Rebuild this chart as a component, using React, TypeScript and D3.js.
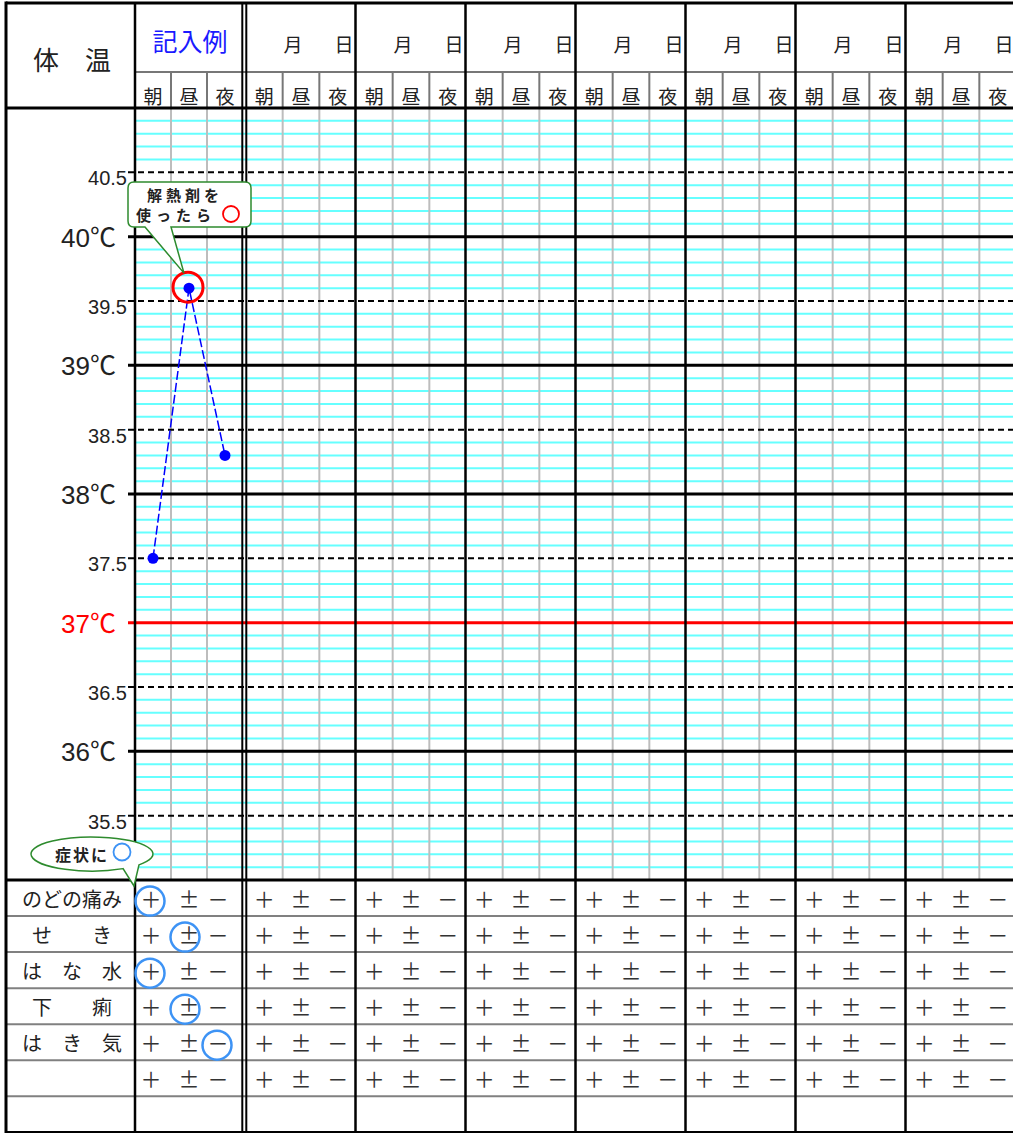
import React from 'react';
import * as d3 from 'd3';

const dayHeaders = ['記入例', '', '', '', '', '', '', ''];
const timeSlots = ['朝', '昼', '夜'];
const sampleTemps = [37.5, 39.6, 38.3];
const antipyreticSlot = 1;
const majorTicks = [36, 37, 38, 39, 40];
const halfTicks = [35.5, 36.5, 37.5, 38.5, 39.5, 40.5];
const feverTemp = 37;
const symptomLabels = ['のどの痛み', 'せ　　き', 'は　な　水', '下　　痢', 'は　き　気', '', ''];
const symptomRows = 6;
const symptomChoices = ['＋', '±', '－'];
const sampleMarks = [0, 1, 0, 1, 2];
const callout1Lines = ['解熱剤を', '使ったら'];
const callout2Text = '症状に';

const W = 1013;
const H = 1133;
const FONT = '"Noto Sans CJK JP", sans-serif';
const NUMFONT = '"Liberation Sans", "Noto Sans CJK JP", sans-serif';

const LEFT = 6;
const COL1 = 135;
const TOP = 3;
const HEADER_MID = 72;
const PLOT_TOP = 108;
const PLOT_BOTTOM = 880;
const BOTTOM = 1132;
const ROW_H = 36;

const y = d3.scaleLinear().domain([35, 41]).range([PLOT_BOTTOM, PLOT_TOP]);
const dayLeft = (i: number) => (i === 0 ? COL1 : 246 + (i - 1) * 110);
const dayRight = (i: number) => (i === 0 ? 243 : 246 + i * 110);
const slotScale = (i: number) =>
  d3.scaleBand<string>().domain(timeSlots).range([dayLeft(i), dayRight(i)]);

export default function App() {
  const nDays = dayHeaders.length;
  const sample = slotScale(0);
  const cx = (s: string) => (sample(s) as number) + sample.bandwidth() / 2;
  const pts = sampleTemps.map((t, i) => [cx(timeSlots[i]), y(t)] as [number, number]);
  const line = d3.line()(pts) as string;
  const minor: number[] = [];
  for (let k = 351; k < 410; k++) if (k % 5 !== 0) minor.push(k / 10);
  const rowY = (r: number) => PLOT_BOTTOM + r * ROW_H + (r > 0 ? r * 0.05 : 0);
  const choiceX = (day: number, c: number) => {
    const sc = slotScale(day);
    const center = (sc(timeSlots[c]) as number) + sc.bandwidth() / 2;
    if (day === 0) return [151, 189, 218][c];
    return center;
  };
  const markOffset = [-1, -4, -1];
  const anti = pts[antipyreticSlot];

  const els: React.ReactNode[] = [];

  minor.forEach((t) =>
    els.push(<line key={'m' + t} x1={COL1} x2={W} y1={y(t)} y2={y(t)} stroke="#66ffff" strokeWidth={2} />)
  );
  for (let d = 0; d < nDays; d++) {
    const sc = slotScale(d);
    timeSlots.slice(1).forEach((s) => {
      const xx = sc(s) as number;
      els.push(<line key={`v${d}${s}`} x1={xx} x2={xx} y1={PLOT_TOP} y2={PLOT_BOTTOM} stroke="#bdbdbd" strokeWidth={2} />);
      els.push(<line key={`h${d}${s}`} x1={xx} x2={xx} y1={HEADER_MID} y2={PLOT_TOP} stroke="#777" strokeWidth={2} />);
    });
  }
  halfTicks.forEach((t) => {
    els.push(<line key={'hd' + t} x1={128} x2={W} y1={y(t)} y2={y(t)} stroke="#000" strokeWidth={2} strokeDasharray="6,4" />);
    els.push(
      <text key={'ht' + t} x={127} y={y(t) + 13} textAnchor="end" fontFamily={NUMFONT} fontSize={20} fill="#222">
        {t.toFixed(1)}
      </text>
    );
  });
  majorTicks.forEach((t) => {
    const col = t === feverTemp ? '#ff0000' : '#000';
    els.push(<line key={'mj' + t} x1={128} x2={W} y1={y(t)} y2={y(t)} stroke={col} strokeWidth={3} />);
    els.push(
      <text key={'mt' + t} x={116} y={y(t) + 1} dominantBaseline="central" textAnchor="end" fontFamily={NUMFONT} fontSize={26} fill={t === feverTemp ? '#ff0000' : '#222'}>
        {t}℃
      </text>
    );
  });

  els.push(<line key="hmid" x1={COL1} x2={W} y1={HEADER_MID} y2={HEADER_MID} stroke="#777" strokeWidth={2} />);
  for (let r = 1; r < symptomLabels.length; r++) {
    els.push(<line key={'tr' + r} x1={LEFT} x2={W} y1={rowY(r)} y2={rowY(r)} stroke="#808080" strokeWidth={2} />);
  }
  [TOP, PLOT_TOP, PLOT_BOTTOM].forEach((yy, i) =>
    els.push(<line key={'hb' + i} x1={LEFT} x2={W} y1={yy} y2={yy} stroke="#000" strokeWidth={3} />)
  );
  els.push(<line key="hbb" x1={LEFT} x2={W} y1={BOTTOM} y2={BOTTOM} stroke="#000" strokeWidth={2} />);
  els.push(<line key="vl" x1={LEFT} x2={LEFT} y1={TOP - 1.5} y2={BOTTOM + 1} stroke="#000" strokeWidth={3} />);
  els.push(<line key="vc" x1={COL1} x2={COL1} y1={TOP} y2={BOTTOM} stroke="#000" strokeWidth={2.5} />);
  els.push(<line key="vd1" x1={242.3} x2={242.3} y1={TOP} y2={BOTTOM} stroke="#000" strokeWidth={2} />);
  els.push(<line key="vd2" x1={246.3} x2={246.3} y1={TOP} y2={BOTTOM} stroke="#000" strokeWidth={2} />);
  for (let d = 2; d < nDays; d++) {
    const xx = dayLeft(d) - 0.5;
    els.push(<line key={'vdd' + d} x1={xx} x2={xx} y1={TOP} y2={BOTTOM} stroke="#000" strokeWidth={2.5} />);
  }

  els.push(
    <text key="title" x={72} y={58} dominantBaseline="central" textAnchor="middle" fontFamily={FONT} fontSize={26} fill="#222">
      体　温
    </text>
  );
  for (let d = 0; d < nDays; d++) {
    const sc = slotScale(d);
    if (d === 0) {
      els.push(
        <text key="sample" x={190} y={40} dominantBaseline="central" textAnchor="middle" fontFamily={FONT} fontSize={25} fill="#1a1aff">
          {dayHeaders[0]}
        </text>
      );
    } else {
      els.push(
        <text key={'mo' + d} x={dayLeft(d) + 47} y={43} dominantBaseline="central" textAnchor="middle" fontFamily={FONT} fontSize={19} fill="#222">月</text>
      );
      els.push(
        <text key={'da' + d} x={dayLeft(d) + 98} y={43} dominantBaseline="central" textAnchor="middle" fontFamily={FONT} fontSize={19} fill="#222">日</text>
      );
    }
    timeSlots.forEach((s) =>
      els.push(
        <text key={`ts${d}${s}`} x={(sc(s) as number) + sc.bandwidth() / 2} y={95} dominantBaseline="central" textAnchor="middle" fontFamily={FONT} fontSize={19} fill="#222">
          {s}
        </text>
      )
    );
  }

  symptomLabels.forEach((lab, r) => {
    const cy = (rowY(r) + rowY(r + 1)) / 2;
    if (lab)
      els.push(
        <text key={'sl' + r} x={72} y={cy} dominantBaseline="central" textAnchor="middle" fontFamily={FONT} fontSize={20} fill="#222">
          {lab}
        </text>
      );
    if (r < symptomRows) {
      for (let d = 0; d < nDays; d++) {
        symptomChoices.forEach((c, ci) =>
          els.push(
            <text key={`sc${r}${d}${ci}`} x={choiceX(d, ci)} y={cy} dominantBaseline="central" textAnchor="middle" fontFamily={FONT} fontSize={21} fill="#333">
              {c}
            </text>
          )
        );
      }
    }
  });
  sampleMarks.forEach((c, r) => {
    const cy = (rowY(r) + rowY(r + 1)) / 2 + 3;
    els.push(<circle key={'mk' + r} cx={choiceX(0, c) + markOffset[c]} cy={cy} r={14.5} fill="none" stroke="#3d93f5" strokeWidth={2.5} />);
  });

  els.push(<path key="dl" d={line} fill="none" stroke="#0000ff" strokeWidth={1.5} strokeDasharray="9,3" />);
  pts.forEach((p, i) => els.push(<circle key={'pt' + i} cx={p[0]} cy={p[1]} r={5.5} fill="#0000ff" />));
  els.push(<circle key="anti" cx={anti[0] - 1} cy={anti[1] - 1} r={15} fill="none" stroke="#ff0000" strokeWidth={3} />);

  const bx0 = 128, bx1 = 251, by0 = 182, by1 = 227, rr = 6;
  const tip = [anti[0] - 5, anti[1] - 15];
  const c1 = `M${bx0 + rr},${by0} H${bx1 - rr} Q${bx1},${by0} ${bx1},${by0 + rr} V${by1 - rr} Q${bx1},${by1} ${bx1 - rr},${by1} H171 L${tip[0]},${tip[1]} L145,${by1} H${bx0 + rr} Q${bx0},${by1} ${bx0},${by1 - rr} V${by0 + rr} Q${bx0},${by0} ${bx0 + rr},${by0} Z`;
  els.push(<path key="c1" d={c1} fill="#fff" stroke="#2e8b2e" strokeWidth={1.5} />);
  els.push(
    <text key="c1a" x={147} y={194} dominantBaseline="central" textAnchor="start" fontFamily={FONT} fontSize={15} fontWeight={700} letterSpacing={4} fill="#222">
      {callout1Lines[0]}
    </text>
  );
  els.push(
    <text key="c1b" x={136} y={214} dominantBaseline="central" textAnchor="start" fontFamily={FONT} fontSize={15} fontWeight={700} letterSpacing={5} fill="#222">
      {callout1Lines[1]}
    </text>
  );
  els.push(<circle key="c1c" cx={231} cy={214} r={8} fill="none" stroke="#ff0000" strokeWidth={1.8} />);

  const ex = 92, ey = 854, erx = 61, ery = 17;
  const a1 = Math.PI * 0.33, a2 = Math.PI * 0.22;
  const p1 = [ex + erx * Math.cos(a1), ey + ery * Math.sin(a1)];
  const p2 = [ex + erx * Math.cos(a2), ey + ery * Math.sin(a2)];
  const c2 = `M${p1[0]},${p1[1]} A${erx},${ery} 0 1 1 ${p2[0]},${p2[1]} L${COL1 - 1},${PLOT_BOTTOM + 6} Z`;
  els.push(<path key="c2" d={c2} fill="#fff" stroke="#2e8b2e" strokeWidth={1.5} />);
  els.push(
    <text key="c2t" x={55} y={854} dominantBaseline="central" textAnchor="start" fontFamily={FONT} fontSize={16} fontWeight={700} letterSpacing={2} fill="#222">
      {callout2Text}
    </text>
  );
  els.push(<circle key="c2c" cx={122} cy={852} r={8.5} fill="none" stroke="#3d93f5" strokeWidth={1.8} />);

  return (
    <svg width={W} height={H} style={{ position: 'absolute', left: 0, top: 0, background: '#fff' }}>
      <rect x={0} y={0} width={W} height={H} fill="#fff" />
      {els}
    </svg>
  );
}
